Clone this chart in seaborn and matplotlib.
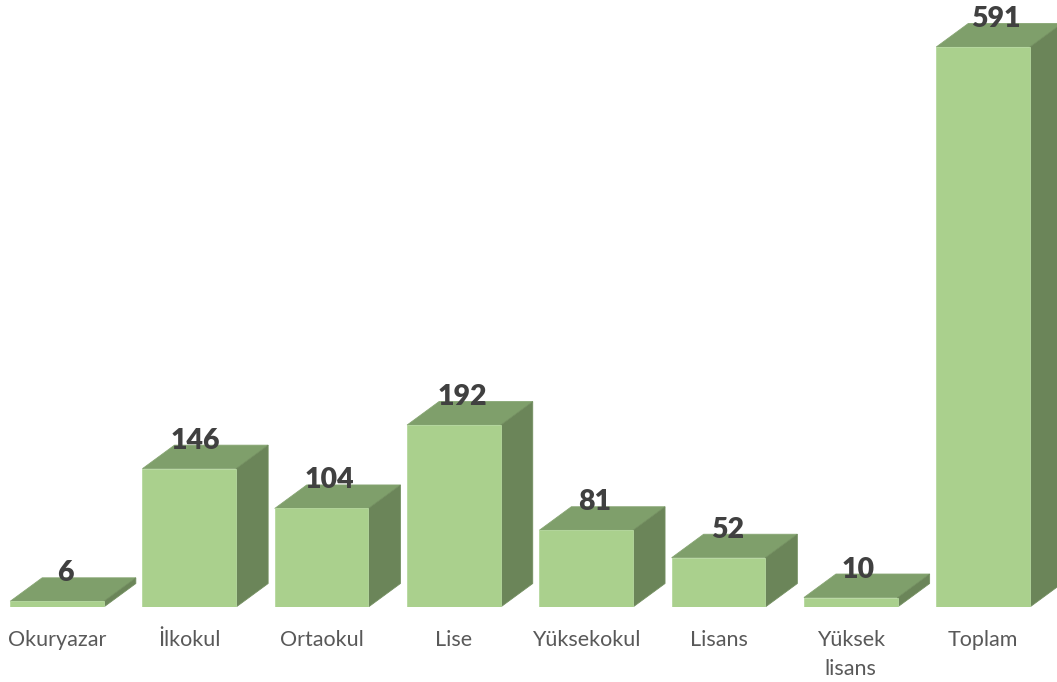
import numpy as np
import pandas as pd
import matplotlib
matplotlib.use('Agg')
import matplotlib.pyplot as plt
from matplotlib.patches import Polygon
import seaborn as sns

categories = ['Okuryazar', 'İlkokul', 'Ortaokul', 'Lise', 'Yüksekokul', 'Lisans', 'Yüksek\nlisans', 'Toplam']
values = [6, 146, 104, 192, 81, 52, 10, 591]
# the labels do not sit exactly centred in the original, nudge in pixels
label_nudge = [8, 6, 8, 8, 8, 9, 7, 13]

sns.set_theme(style='white')
plt.rcParams['font.family'] = ['Lato', 'DejaVu Sans']

df = pd.DataFrame({'category': categories, 'value': values})

W, H = 1057, 682
base_px = 607       # baseline, pixels from the top
px_per_unit = 560 / 591
pitch = 132.3
depth_x = 32 / pitch
depth_y = 23.5 / px_per_unit

fig = plt.figure(figsize=(W / 100, H / 100), dpi=100)
ax = fig.add_axes([0, (H - base_px) / H, 1, base_px / H])

sns.barplot(data=df, x='category', y='value', color='#AAD08D', saturation=1,
            width=0.708, edgecolor='#B5D89E', linewidth=0.6, ax=ax, zorder=3)

# fake 3d: top and side faces built from the bars seaborn drew
for bar, val, nudge in zip(ax.patches, values, label_nudge):
    x0 = bar.get_x()
    x1 = x0 + bar.get_width()
    top = bar.get_height()
    ax.add_patch(Polygon([(x0, top), (x1, top), (x1 + depth_x, top + depth_y), (x0 + depth_x, top + depth_y)],
                         facecolor='#7F9F6B', edgecolor='#86A572', linewidth=0.6, zorder=2))
    ax.add_patch(Polygon([(x1, 0), (x1, top), (x1 + depth_x, top + depth_y), (x1 + depth_x, depth_y)],
                         facecolor='#6B8559', edgecolor='#738F60', linewidth=0.6, zorder=2))
    ax.annotate(str(val), (x0 + bar.get_width() / 2, top), xytext=(nudge, 28), textcoords='offset pixels',
                ha='center', va='center', fontsize=20.5, fontweight='heavy', color='#404040', zorder=5)

ax.set_xlim(-57 / pitch, (W - 57) / pitch)
ax.set_ylim(0, base_px / px_per_unit)
ax.set_xlabel('')
ax.set_ylabel('')
ax.set_yticks([])
ax.tick_params(axis='x', length=0, pad=16.7, labelsize=15.5, labelcolor='#595959')
for lab in ax.get_xticklabels():
    lab.set_linespacing(1.55)
for s in ax.spines.values():
    s.set_visible(False)
ax.patch.set_alpha(0)

fig.savefig('out.png', dpi=100, facecolor='white')
